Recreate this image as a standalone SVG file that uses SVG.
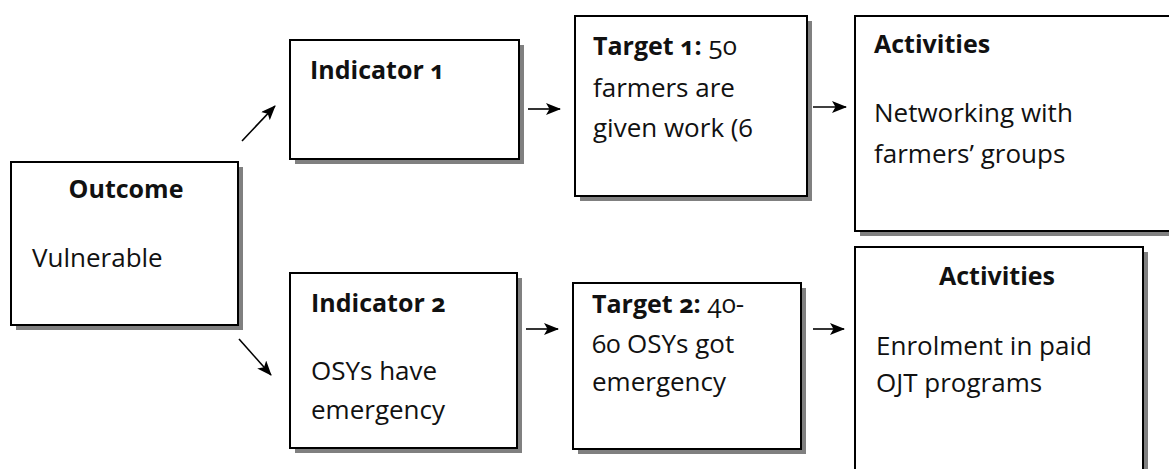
<svg xmlns="http://www.w3.org/2000/svg" width="1169" height="469" viewBox="0 0 1169 469">
<style>
.box{fill:#fff;stroke:#000;stroke-width:2}
.sh{fill:#808080}
.t{font-family:"Open Sans","Noto Sans","Liberation Sans",sans-serif;font-size:26px;fill:#111;font-variant-numeric:oldstyle-nums}
.b{font-weight:bold;font-size:25px}
.c{stroke:#000;stroke-width:1.6;fill:none;marker-end:url(#ah)}
</style>
<defs>
<marker id="ah" markerUnits="userSpaceOnUse" markerWidth="16" markerHeight="14" refX="14" refY="6" orient="auto">
<path d="M0,0 L15,6 L0,12 L3.5,6 z" fill="#000"/>
</marker>
</defs>
<rect width="1169" height="469" fill="#fff"/>
<g id="connectors">
<line class="c" x1="242" y1="141" x2="275" y2="106"/>
<line class="c" x1="239" y1="339" x2="271" y2="375"/>
<line class="c" x1="528" y1="109" x2="560" y2="109"/>
<line class="c" x1="813" y1="107" x2="846" y2="107"/>
<line class="c" x1="526" y1="329" x2="558" y2="329"/>
<line class="c" x1="813" y1="329" x2="844" y2="329"/>
</g>
<g id="outcome">
<rect class="sh" x="16" y="167" width="227" height="163"/>
<rect class="box" x="11" y="162" width="227" height="163"/>
<text class="t b" x="126" y="198" text-anchor="middle">Outcome</text>
<text class="t" x="32" y="267">Vulnerable</text>
</g>
<g id="indicator1">
<rect class="sh" x="295" y="45" width="229" height="119"/>
<rect class="box" x="290" y="40" width="229" height="119"/>
<text class="t b" x="310" y="79">Indicator 1</text>
</g>
<g id="target1">
<rect class="sh" x="580" y="21" width="232" height="180"/>
<rect class="box" x="575" y="16" width="232" height="180"/>
<text class="t" x="593" y="55"><tspan class="b">Target 1:</tspan> 50</text>
<text class="t" x="593" y="97">farmers are</text>
<text class="t" x="593" y="137">given work (6</text>
</g>
<g id="activities1">
<rect class="sh" x="860" y="21" width="330" height="215"/>
<rect class="box" x="855" y="16" width="330" height="215"/>
<text class="t b" x="874" y="53">Activities</text>
<text class="t" x="874" y="122">Networking with</text>
<text class="t" x="874" y="163">farmers’ groups</text>
</g>
<g id="indicator2">
<rect class="sh" x="295" y="278" width="227" height="175"/>
<rect class="box" x="290" y="273" width="227" height="175"/>
<text class="t b" x="311" y="312">Indicator 2</text>
<text class="t" x="311" y="380">OSYs have</text>
<text class="t" x="311" y="419">emergency</text>
</g>
<g id="target2">
<rect class="sh" x="578" y="288" width="228" height="166"/>
<rect class="box" x="573" y="283" width="228" height="166"/>
<text class="t" x="592" y="313"><tspan class="b">Target 2:</tspan> 40-</text>
<text class="t" x="592" y="353">60 OSYs got</text>
<text class="t" x="592" y="391">emergency</text>
</g>
<g id="activities2">
<rect class="sh" x="860" y="252" width="288" height="240"/>
<rect class="box" x="855" y="247" width="288" height="240"/>
<text class="t b" x="997" y="285" text-anchor="middle">Activities</text>
<text class="t" x="876" y="355">Enrolment in paid</text>
<text class="t" x="876" y="392">OJT programs</text>
</g>
</svg>
